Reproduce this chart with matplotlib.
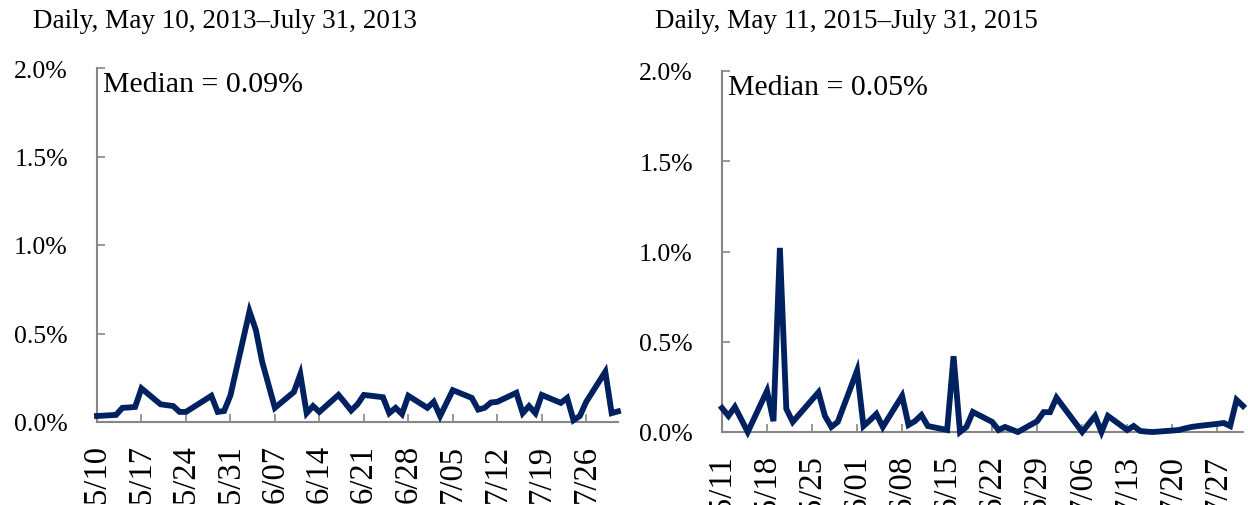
import numpy as np
import pandas as pd
import matplotlib
matplotlib.use("Agg")
import matplotlib.pyplot as plt
import matplotlib.dates as mdates
from matplotlib.ticker import FuncFormatter

plt.rcParams['font.family'] = ['Liberation Serif', 'DejaVu Serif']

# trading days (weekdays minus market holidays)
days_2013 = pd.bdate_range('2013-05-10', '2013-07-31', freq='C',
                           holidays=['2013-05-27', '2013-07-04'])
days_2015 = pd.bdate_range('2015-05-11', '2015-07-31', freq='C',
                           holidays=['2015-05-25', '2015-07-03'])

# daily values, percent
vals_2013 = [0.034, 0.040, 0.080, 0.082, 0.085, 0.190, 0.100, 0.095, 0.090, 0.057,
             0.057, 0.148, 0.057, 0.062, 0.150,
             0.625, 0.520, 0.340, 0.210, 0.080, 0.170, 0.270, 0.050, 0.090, 0.057,
             0.153, 0.110, 0.065, 0.100, 0.153, 0.140, 0.050, 0.080, 0.045, 0.148,
             0.080, 0.114, 0.034, 0.180, 0.136, 0.070, 0.080, 0.110, 0.114, 0.165,
             0.050, 0.090, 0.050, 0.153, 0.108, 0.136, 0.010, 0.034, 0.114, 0.284,
             0.050, 0.060]
vals_2015 = [0.133, 0.089, 0.139, 0.070, 0.000, 0.228, 0.060, 1.020, 0.128, 0.056,
             0.220, 0.089, 0.028, 0.056,
             0.340, 0.033, 0.065, 0.100, 0.028, 0.200, 0.039, 0.060, 0.094, 0.033,
             0.011, 0.420, 0.000, 0.028, 0.111, 0.056, 0.011, 0.028, 0.014, 0.000,
             0.060, 0.110,
             0.110, 0.190, 0.000, 0.045, 0.089, 0.000, 0.089, 0.011, 0.033, 0.006,
             0.002, 0.000, 0.008, 0.011, 0.020, 0.028, 0.033, 0.045, 0.050, 0.033,
             0.178, 0.144]

titles = ['Daily, May 10, 2013\u2013July 31, 2013', 'Daily, May 11, 2015\u2013July 31, 2015']
medians = ['Median = 0.09%', 'Median = 0.05%']

navy = '#00215f'
grey = '#868686'

fig = plt.figure(figsize=(12.48, 5.06), dpi=100)
ax1 = fig.add_axes([97 / 1248, 1 - 423 / 506, 521 / 1248, 354 / 506])
ax2 = fig.add_axes([722 / 1248, 1 - 433 / 506, 521 / 1248, 361 / 506])

panels = [(ax1, days_2013, vals_2013), (ax2, days_2015, vals_2015)]
for i, (ax, days, vals) in enumerate(panels):
    ax.plot(days, vals, color=navy, lw=4.2, solid_joinstyle='miter', clip_on=False, zorder=3)
    ax.set_xlim(days[0], days[-1])
    ax.set_ylim(0, 2.0)
    ax.set_yticks([0, 0.5, 1.0, 1.5, 2.0])
    ax.yaxis.set_major_formatter(FuncFormatter(lambda v, p: '%.1f%%' % v))
    ax.set_xticks(pd.date_range(days[0], days[-1], freq='7D'))
    ax.xaxis.set_major_formatter(mdates.DateFormatter('%-m/%d'))
    for s in ['top', 'right']:
        ax.spines[s].set_visible(False)
    for s in ['left', 'bottom']:
        ax.spines[s].set_color(grey)
        ax.spines[s].set_linewidth(1.5)
    ax.tick_params(axis='y', direction='in', length=6, width=1.2, color=grey,
                   labelsize=18.5, pad=21)
    ax.tick_params(axis='x', direction='in', length=6, width=1.2, color=grey,
                   labelsize=23.5, pad=16, labelrotation=90)
    ax.text(0.012, 0.955, medians[i], transform=ax.transAxes, fontsize=21.5,
            ha='left', va='center')

fig.text(33 / 1248, 1 - 22 / 506, titles[0], fontsize=19.5, ha='left', va='center')
fig.text(655 / 1248, 1 - 22 / 506, titles[1], fontsize=19.5, ha='left', va='center')

fig.savefig('out.png', dpi=100)
